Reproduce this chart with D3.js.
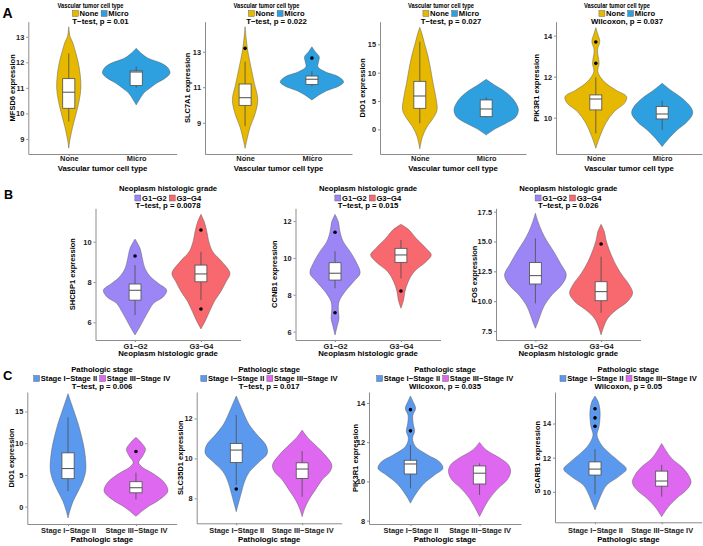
<!DOCTYPE html>
<html><head><meta charset="utf-8">
<script src="https://cdn.jsdelivr.net/npm/d3@7"></script>
<style>
body{margin:0;background:#fff}
svg{display:block}
text{font-family:"Liberation Sans",Arial,sans-serif;font-weight:bold}
</style>
</head><body>
<svg id="chart" width="703" height="546"></svg>
<script>
// ---------------- DATA ----------------
const groupsA = ["None", "Micro"];
const groupsB = ["G1\u2212G2", "G3\u2212G4"];
const groupsC = ["Stage I\u2212Stage II", "Stage III\u2212Stage IV"];
const rowTitles = ["Vascular tumor cell type", "Neoplasm histologic grade", "Pathologic stage"];
const genes = ["MFSD6","SLC7A1","DIO1","PIK3R1","SHCBP1","CCNB1","FOS","DIO1","SLC35D1","PIK3R1","SCARB1"];
const tests = ["T\u2212test, p = 0.01","T\u2212test, p = 0.022","T\u2212test, p = 0.027","Wilcoxon, p = 0.037",
  "T\u2212test, p = 0.0078","T\u2212test, p = 0.015","T\u2212test, p = 0.026",
  "T\u2212test, p = 0.006","T\u2212test, p = 0.017","Wilcoxon, p = 0.035","Wilcoxon, p = 0.05"];
const yTicks = [[9,10,11,12,13],[9,11,13],[0,5,10,15],[10,12,14],
  [6,8,10],[6,8,10,12],[7.5,10,12.5,15,17.5],
  [0,5,10,15],[8,10,12],[8,10,12,14],[10,12,14]];
const yDomains = [[8.41,13.59],[7.24,14.69],[-4.35,18.99],[8.23,14.68],
  [5.12,11.66],[5.55,12.69],[6.75,17.78],
  [-2.74,18.08],[6.75,13.33],[7.83,14.56],[8.21,15.85]];

// violin profiles: [value, half-width in category units]
const vMFSD6None = [[13.39,0],[13.0,0.02],[12.8,0.055],[12.4,0.1],[12.0,0.14],[11.5,0.17],[11.0,0.18],[10.5,0.155],[10.0,0.11],[9.5,0.06],[9.0,0.02],[8.64,0]];
const vMFSD6Micro = [[12.55,0],[12.35,0.075],[12.16,0.175],[11.96,0.375],[11.77,0.475],[11.57,0.5],[11.37,0.425],[11.18,0.3],[10.98,0.2],[10.79,0.11],[10.55,0.05],[10.33,0]];
const vSLC7A1None = [[14.41,0],[13.8,0.015],[13.05,0.04],[12.1,0.09],[11.2,0.14],[10.3,0.19],[9.5,0.15],[8.75,0.075],[8.0,0.025],[7.56,0]];
const vSLC7A1Micro = [[13.28,0],[13.0,0.05],[12.72,0.11],[12.44,0.1],[12.15,0.09],[11.87,0.2],[11.59,0.4],[11.3,0.475],[11.06,0.4],[10.8,0.22],[10.55,0.1],[10.28,0]];
const vDIO1None = [[18.0,0],[16.94,0.03],[15.18,0.07],[12.8,0.125],[10.47,0.165],[8.12,0.2],[5.76,0.24],[3.41,0.26],[1.95,0.2],[0.47,0.11],[-1.3,0.04],[-3.46,0]];
const vDIO1Micro = [[8.83,0],[7.82,0.125],[6.94,0.25],[5.76,0.375],[4.59,0.45],[3.41,0.485],[2.24,0.45],[1.07,0.3],[0.18,0.15],[-0.99,0]];
const vPIK3R1None = [[14.39,0],[14.12,0.025],[13.71,0.06],[13.3,0.025],[12.65,0.05],[12.24,0.03],[11.76,0.125],[11.35,0.3],[11.02,0.465],[10.7,0.43],[10.29,0.275],[9.73,0.15],[9.07,0.06],[8.51,0]];
const vPIK3R1Micro = [[11.68,0],[11.35,0.125],[10.95,0.3],[10.54,0.425],[10.21,0.46],[9.8,0.375],[9.4,0.225],[8.99,0.1],[8.59,0]];
const vSHCBP1G12 = [[10.13,0],[9.67,0.076],[9.18,0.11],[8.68,0.15],[8.27,0.23],[7.94,0.35],[7.6,0.48],[7.27,0.43],[6.94,0.28],[6.53,0.2],[6.12,0.13],[5.7,0.06],[5.37,0]];
const vSHCBP1G34 = [[11.36,0],[10.99,0.05],[10.5,0.09],[10,0.12],[9.5,0.18],[9.0,0.32],[8.43,0.44],[8.01,0.38],[7.52,0.3],[7.02,0.2],[6.53,0.13],[6.03,0.06],[5.67,0]];
const vCCNB1G12 = [[12.36,0],[11.96,0.05],[11.42,0.075],[10.88,0.125],[10.34,0.23],[9.71,0.33],[9.17,0.38],[8.71,0.28],[8.17,0.15],[7.63,0.06],[7.18,0.05],[6.73,0.06],[6.27,0.03],[5.82,0]];
const vCCNB1G34 = [[11.82,0],[11.51,0.125],[11.06,0.23],[10.52,0.38],[10.16,0.46],[9.79,0.38],[9.25,0.2],[8.71,0.11],[8.17,0.06],[7.72,0.04],[7.27,0]];
const vFOSG12 = [[17.37,0],[16.66,0.04],[15.82,0.1],[15.0,0.18],[14.15,0.28],[13.17,0.38],[12.19,0.47],[11.36,0.4],[10.52,0.25],[9.68,0.14],[8.84,0.075],[8.28,0.04],[7.73,0]];
const vFOSG34 = [[16.44,0],[15.82,0.05],[15.13,0.075],[14.29,0.125],[13.31,0.2],[12.34,0.3],[11.36,0.43],[10.66,0.48],[9.96,0.4],[9.26,0.23],[8.56,0.1],[7.86,0.04],[7.17,0]];
const vDIO1S12 = [[17.81,0],[16.22,0.05],[14.63,0.1],[13.04,0.15],[11.45,0.19],[9.33,0.235],[7.21,0.26],[5.62,0.26],[4.03,0.22],[2.44,0.15],[0.85,0.075],[-0.74,0.025],[-1.79,0]];
const vDIO1S34 = [[10.93,0],[10.13,0.075],[9.07,0.14],[8.0,0.1],[6.96,0.04],[6.16,0.1],[5.1,0.27],[3.77,0.42],[2.44,0.47],[1.12,0.35],[-0.2,0.15],[-1.53,0]];
const vSLC35D1S12 = [[13.13,0],[12.67,0.06],[12.17,0.125],[11.67,0.2],[11.17,0.32],[10.67,0.45],[10.25,0.47],[9.83,0.35],[9.33,0.2],[8.83,0.125],[8.25,0.075],[7.83,0.04],[7.33,0]];
const vSLC35D1S34 = [[11.42,0],[11.08,0.075],[10.67,0.2],[10.17,0.35],[9.67,0.45],[9.33,0.42],[8.92,0.3],[8.42,0.2],[7.92,0.1],[7.5,0.04],[7.08,0]];
const vPIK3R1S12 = [[14.36,0],[14.05,0.04],[13.72,0.075],[13.38,0.035],[12.95,0.04],[12.56,0.06],[12.19,0.03],[11.77,0.075],[11.35,0.25],[11.0,0.42],[10.67,0.47],[10.33,0.35],[9.91,0.2],[9.48,0.1],[9.15,0.04],[8.89,0]];
const vPIK3R1S34 = [[11.99,0],[11.6,0.1],[11.18,0.3],[10.84,0.42],[10.5,0.45],[10.08,0.4],[9.65,0.27],[9.15,0.15],[8.72,0.075],[8.21,0]];
const vSCARB1S12 = [[15.61,0],[15.26,0.05],[14.78,0.075],[14.29,0.075],[13.8,0.06],[13.32,0.03],[12.73,0.1],[12.25,0.22],[11.75,0.37],[11.33,0.47],[10.88,0.35],[10.39,0.175],[9.81,0.09],[9.32,0.04],[8.93,0]];
const vSCARB1S34 = [[12.83,0],[12.44,0.06],[11.95,0.15],[11.46,0.3],[10.98,0.4],[10.55,0.44],[10.1,0.37],[9.61,0.22],[9.12,0.1],[8.54,0]];

// boxes: [whiskerLow, q1, median, q3, whiskerHigh] per group
const boxMFSD6 = [[9.68,10.2,10.83,11.36,12.35],[11.0,11.09,11.62,11.66,11.83]];
const boxSLC7A1 = [[8.81,9.98,10.41,11.18,12.44],[11.04,11.16,11.45,11.63,11.9]];
const boxDIO1A = [[1.07,3.71,5.88,8.47,15.46],[2.1,2.24,3.59,5.18,5.65]];
const boxPIK3R1A = [[9.24,10.38,10.91,11.11,11.97],[9.4,9.94,10.18,10.54,10.83]];
const boxSHCBP1 = [[6.36,7.1,7.59,7.9,8.84],[7.1,8.01,8.4,8.84,9.5]];
const boxCCNB1 = [[8.35,8.8,9.17,9.74,10.37],[8.89,9.76,10.16,10.52,10.97]];
const boxFOS = [[9.82,11.44,12.14,13.23,15.27],[9.03,10.04,10.8,11.63,13.73]];
const boxDIO1C = [[2.44,4.41,6.0,8.48,14.1],[1.12,2.18,2.98,3.93,5.36]];
const boxSLC35D1 = [[8.67,9.8,10.42,10.75,12.17],[8.08,9.0,9.47,9.78,10.37]];
const boxPIK3R1C = [[9.65,10.38,10.89,11.08,11.85],[9.31,9.87,10.42,10.79,10.92]];
const boxSCARB1 = [[9.85,10.98,11.33,11.75,12.5],[9.71,10.33,10.63,11.21,11.58]];

// outliers per group
const outMFSD6 = [[],[]];
const outSLC7A1 = [[13.19],[12.64]];
const outDIO1A = [[],[]];
const outPIK3R1A = [[13.69,12.65],[]];
const outSHCBP1 = [[9.29],[10.58,6.66]];
const outCCNB1 = [[11.39,7.03],[8.21]];
const outFOS = [[],[14.79]];
const outDIO1C = [[],[8.7]];
const outSLC35D1 = [[8.47],[]];
const outPIK3R1C = [[13.66,12.58],[]];
const outSCARB1 = [[14.87,14.33,13.84],[]];

// ---------------- TABLE ----------------
const violins = [[vMFSD6None,vMFSD6Micro],[vSLC7A1None,vSLC7A1Micro],[vDIO1None,vDIO1Micro],[vPIK3R1None,vPIK3R1Micro],
  [vSHCBP1G12,vSHCBP1G34],[vCCNB1G12,vCCNB1G34],[vFOSG12,vFOSG34],
  [vDIO1S12,vDIO1S34],[vSLC35D1S12,vSLC35D1S34],[vPIK3R1S12,vPIK3R1S34],[vSCARB1S12,vSCARB1S34]];
const boxes = [boxMFSD6,boxSLC7A1,boxDIO1A,boxPIK3R1A,boxSHCBP1,boxCCNB1,boxFOS,boxDIO1C,boxSLC35D1,boxPIK3R1C,boxSCARB1];
const outs = [outMFSD6,outSLC7A1,outDIO1A,outPIK3R1A,outSHCBP1,outCCNB1,outFOS,outDIO1C,outSLC35D1,outPIK3R1C,outSCARB1];
const rowOf = [0,0,0,0,1,1,1,2,2,2,2];
const groupsByRow = [groupsA, groupsB, groupsC];

// ---------------- LAYOUT / STYLE ----------------
const colors = [["#E7B800","#2E9FDF"],["#9C86F5","#F7686F"],["#5B99EF","#DE68EF"]];
const rowY = [
  {top:21.7,bot:154,tb:8.3,lb:16.2,pb:23.7,kb:161,ab:170.8},
  {top:208.3,bot:340,tb:190.5,lb:200.7,pb:208.2,kb:348.7,ab:356.3},
  {top:392,bot:524,tb:371.7,lb:381.2,pb:389.2,kb:533,ab:542.3}];
const lay = [
  {x0:28.3,x1:176.7,yt:15},{x0:205,x1:352,yt:190},{x0:380,x1:526,yt:365},{x0:556,x1:702,yt:538.5},
  {x0:95.5,x1:240.5,yt:75},{x0:295.5,x1:440.5,yt:277},{x0:496,x1:640.5,yt:477},
  {x0:27.3,x1:176.7,yt:13.5},{x0:196.7,x1:341.7,yt:182.5},{x0:369,x1:521,yt:357.5},{x0:555,x1:701.7,yt:540}];
const botOverride = {10:522.3, 8:523.3};

const svg = d3.select("#chart");
const FS = 7.4;

genes.forEach((gene, i) => {
  const r = rowOf[i], L = lay[i], R = rowY[r];
  const groups = groupsByRow[r];
  const bot = botOverride[i] || R.bot;
  const x = d3.scalePoint().domain(groups).range([L.x0, L.x1]).padding(0.6);
  const step = x.step();
  const y = d3.scaleLinear().domain(yDomains[i]).range([bot, R.top]);
  const g = svg.append("g");

  // axes
  const ay = g.append("g").attr("transform", `translate(${L.x0},0)`)
    .call(d3.axisLeft(y).tickValues(yTicks[i]).tickSize(2).tickSizeOuter(0).tickPadding(2)
      .tickFormat(i === 6 ? d3.format(".1f") : d3.format("d")));
  const ax = g.append("g").attr("transform", `translate(0,${bot})`)
    .call(d3.axisBottom(x).tickSize(2).tickSizeOuter(0).tickPadding(2));
  [ay, ax].forEach(a => {
    a.select(".domain").attr("stroke", "#8c8c8c").attr("stroke-width", 1);
    a.selectAll(".tick line").attr("stroke", "#8c8c8c");
    a.selectAll(".tick text").attr("font-size", FS).attr("fill", "#1a1a1a")
      .attr("font-family", "Liberation Sans, Arial, sans-serif").attr("font-weight", "bold");
  });
  ax.selectAll(".tick text").attr("dy", null).attr("y", R.kb - bot);

  // violins
  groups.forEach((grp, k) => {
    const cx = x(grp);
    const area = d3.area()
      .y(d => y(d[0]))
      .x0(d => cx - d[1] * step)
      .x1(d => cx + d[1] * step)
      .curve(d3.curveCatmullRom.alpha(0.5));
    g.append("path").attr("d", area(violins[i][k]))
      .attr("fill", colors[r][k]).attr("stroke", "#555").attr("stroke-opacity", 0.75).attr("stroke-width", 0.6);
    const b = boxes[i][k];
    const bw = 0.09 * step;
    g.append("line").attr("x1", cx).attr("x2", cx).attr("y1", y(b[0])).attr("y2", y(b[4]))
      .attr("stroke", "#4d4d4d").attr("stroke-width", 0.8);
    g.append("rect").attr("x", cx - bw).attr("width", 2 * bw)
      .attr("y", y(b[3])).attr("height", y(b[1]) - y(b[3]))
      .attr("fill", "#fff").attr("stroke", "#4d4d4d").attr("stroke-width", 0.8);
    g.append("line").attr("x1", cx - bw).attr("x2", cx + bw).attr("y1", y(b[2])).attr("y2", y(b[2]))
      .attr("stroke", "#4d4d4d").attr("stroke-width", 1);
    g.selectAll(null).data(outs[i][k]).enter().append("circle")
      .attr("cx", cx).attr("cy", d => y(d)).attr("r", 1.8).attr("fill", "#000");
  });

  const pc = (L.x0 + L.x1) / 2;
  // titles
  const t = g.append("text").attr("x", r === 0 ? pc - 12 : pc).attr("y", R.tb)
    .attr("text-anchor", "middle").attr("font-size", r === 0 ? 7.4 : 7.7).text(rowTitles[r]);
  if (r === 0) t.attr("textLength", 66).attr("lengthAdjust", "spacingAndGlyphs");
  g.append("text").attr("x", r === 0 ? pc - 2 : pc).attr("y", R.pb).attr("text-anchor", "middle")
    .attr("font-size", 7.8).text(tests[i]);
  g.append("text").attr("x", pc).attr("y", R.ab).attr("text-anchor", "middle")
    .attr("font-size", 7.8).text(rowTitles[r]);
  g.append("text").attr("transform", `translate(${L.yt},${(R.top + bot) / 2}) rotate(-90)`)
    .attr("text-anchor", "middle").attr("font-size", 7.5).text(gene + " expression");

  // legend
  const lg = g.append("g");
  let cur = 0;
  const sq = 6;
  groups.forEach((grp, k) => {
    lg.append("rect").attr("x", cur).attr("y", -sq + 0.3).attr("width", sq).attr("height", sq)
      .attr("fill", colors[r][k]).attr("stroke", "#555").attr("stroke-width", 0.4);
    cur += sq + 1.2;
    const tx = lg.append("text").attr("x", cur).attr("y", 0).attr("font-size", 7.6).text(grp);
    cur += tx.node().getComputedTextLength() + 2.5;
  });
  const lw = cur - 2.5;
  lg.attr("transform", `translate(${(r === 0 ? pc - 2 : pc) - lw / 2},${R.lb})`);
});

// panel letters
[["A",2.5,18.3,14],["B",4,199,12.5],["C",3,380,13]].forEach(([s, px, py, fs]) => {
  svg.append("text").attr("x", px).attr("y", py).attr("font-size", fs).text(s);
});
</script>
</body></html>
